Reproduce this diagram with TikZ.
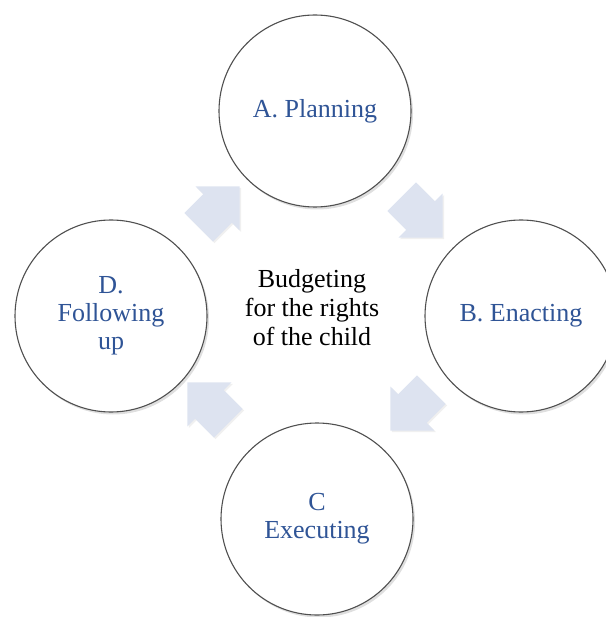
\documentclass[tikz,border=0pt]{standalone}
\usepackage{fontspec}
\setmainfont{Liberation Serif}
\usetikzlibrary{shapes.arrows}
\usetikzlibrary{shadows}
\definecolor{stageblue}{RGB}{47,84,150}
\definecolor{arrowfill}{RGB}{221,227,240}
\definecolor{ringgray}{RGB}{80,80,80}

\tikzset{
	stage/.style={circle, draw=ringgray, line width=1.1pt, fill=white, minimum size=192pt, inner sep=0pt, align=center, text=stageblue, font=\fontsize{26}{28}\selectfont, drop shadow={shadow xshift=2pt, shadow yshift=-2.5pt, opacity=0.25}},
	flow/.style={single arrow, fill=arrowfill, inner xsep=0pt, inner ysep=20pt, minimum height=58pt, single arrow head extend=11pt, single arrow tip angle=90, drop shadow={shadow xshift=1.5pt, shadow yshift=-1.5pt, opacity=0.12}}
}

\begin{document}
\begin{tikzpicture}[x=1pt,y=-1pt]
		\useasboundingbox (0,0) rectangle (605,617);
		% the four stages
		\node[stage] (plan) at (315,111) {A. Planning};
		\node[stage] (enact) at (521,316) {B. Enacting};
		\node[stage] (exec) at (317,519) {C\\Executing};
		\node[stage] (follow) at (111,316) {D.\\Following\\up};
		% centre
		\node[align=center, font=\fontsize{26}{29}\selectfont] (budget) at (312,308) {Budgeting\\for the rights\\of the child};
		% arrows of the cycle
		\node[flow, rotate=45] (toplan) at (212,214) {};
		\node[flow, rotate=-45] (toenact) at (415,210) {};
		\node[flow, rotate=-135] (toexec) at (418,403) {};
		\node[flow, rotate=135] (tofollow) at (215,410) {};
	\end{tikzpicture}
\end{document}
